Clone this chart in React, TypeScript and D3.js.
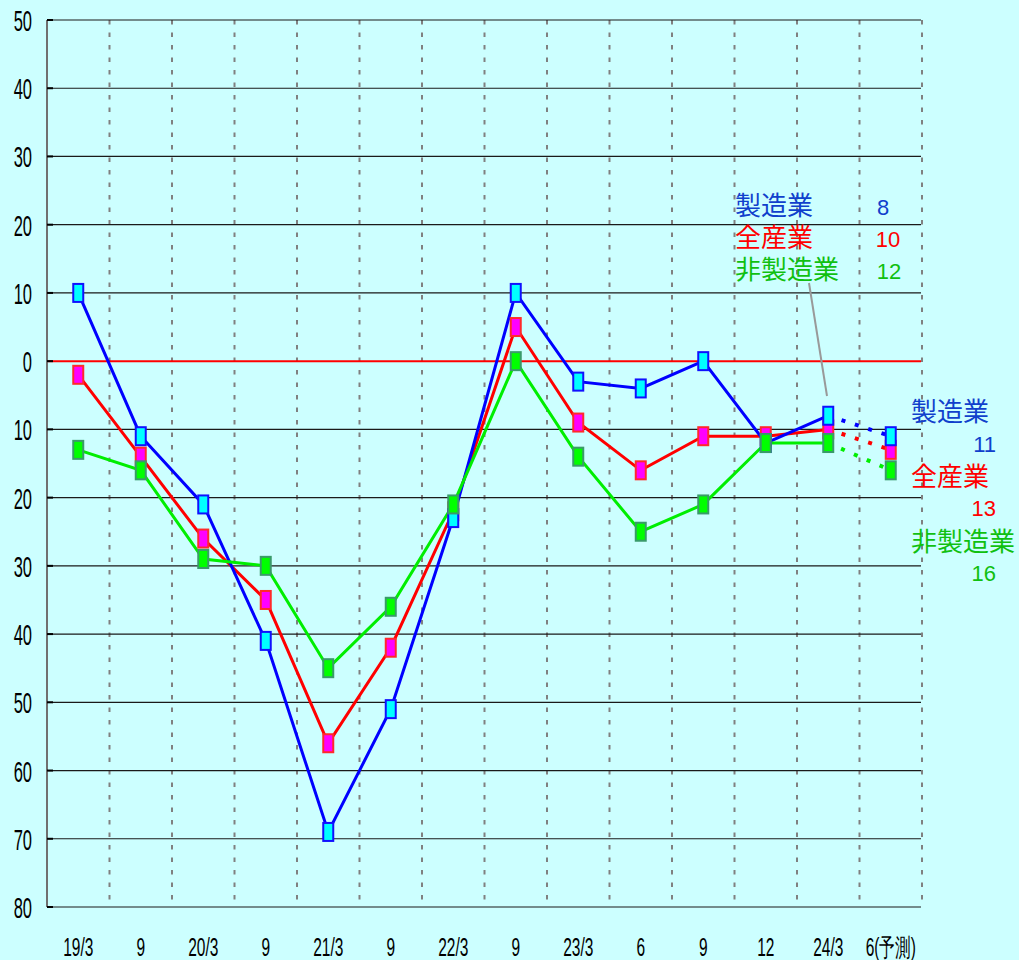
import React from 'react';
import * as d3 from 'd3';

const categories = ['19/3', '9', '20/3', '9', '21/3', '9', '22/3', '9', '23/3', '6', '9', '12', '24/3', '6(予測)'];
const manufacturing = [10, -11, -21, -41, -69, -51, -23, 10, -3, -4, 0, -12, -8, -11];
const allIndustries = [-2, -14, -26, -35, -56, -42, -22, 5, -9, -16, -11, -11, -10, -13];
const nonManufacturing = [-13, -16, -29, -30, -45, -36, -21, 0, -14, -25, -21, -12, -12, -16];
const yTicks = [50, 40, 30, 20, 10, 0, -10, -20, -30, -40, -50, -60, -70, -80];
const seriesNames = ['製造業', '全産業', '非製造業'];

const W = 1019;
const H = 960;
const L = 47;
const R = 922;
const T = 20;
const B = 907;

const JP = '"Noto Sans CJK JP", "Noto Sans CJK SC", sans-serif';
const LAT = '"Liberation Sans", Arial, sans-serif';

export default function App() {
  const idx = categories.map((_, i) => String(i));
  const x = d3.scaleBand<string>().domain(idx).range([L, R]).padding(0);
  const y = d3.scaleLinear().domain([-80, 50]).range([B, T]);
  const cx = (i: number) => (x(String(i)) as number) + x.bandwidth() / 2;

  const line = d3
    .line<number>()
    .x((_, i) => cx(i))
    .y((d) => y(d));

  const n = categories.length;
  const series = [
    { name: seriesNames[1], data: allIndustries, line: '#ff0000', fill: '#ff00ff', stroke: '#ff2a2a', text: '#ff0000' },
    { name: seriesNames[0], data: manufacturing, line: '#0000ff', fill: '#00ffff', stroke: '#1010ff', text: '#1040cc' },
    { name: seriesNames[2], data: nonManufacturing, line: '#00ee00', fill: '#00ff00', stroke: '#3a9a6a', text: '#10c010' },
  ];

  const solidPath = (d: number[]) => line(d.slice(0, n - 1)) as string;
  const forecastPath = (d: number[]) =>
    `M${cx(n - 2)},${y(d[n - 2])}L${cx(n - 1)},${y(d[n - 1])}`;

  const bySeries = (name: string) => series.find((s) => s.name === name)!;
  const mfg = bySeries(seriesNames[0]);
  const all = bySeries(seriesNames[1]);
  const non = bySeries(seriesNames[2]);

  return (
    <div style={{ position: 'absolute', left: 0, top: 0, width: W, height: H, background: '#ccffff' }}>
      <svg width={W} height={H} style={{ display: 'block' }}>
        <rect x={0} y={0} width={W} height={H} fill="#ccffff" />
        {/* vertical dashed grid */}
        {idx.map((k) => (
          <line
            key={'v' + k}
            x1={(x(k) as number) + x.bandwidth()}
            x2={(x(k) as number) + x.bandwidth()}
            y1={T}
            y2={B}
            stroke="#808080"
            strokeWidth={2}
            strokeDasharray="4.5,8"
          />
        ))}
        {/* horizontal grid */}
        {yTicks.map((t) => (
          <line
            key={'h' + t}
            x1={L}
            x2={R - 1}
            y1={y(t)}
            y2={y(t)}
            stroke={t === 0 ? '#ff0000' : '#1a1a1a'}
            strokeWidth={t === 0 ? 2 : 1.2}
          />
        ))}
        {/* left axis */}
        <line x1={L} x2={L} y1={T} y2={B} stroke="#707070" strokeWidth={2} />
        {yTicks.map((t) => (
          <line key={'t' + t} x1={L} x2={L + 6} y1={y(t)} y2={y(t)} stroke="#000" strokeWidth={2} />
        ))}
        {/* y labels */}
        {yTicks.map((t) => (
          <text
            key={'yl' + t}
            transform={`translate(32,${y(t) + 11}) scale(0.55,1)`}
            textAnchor="end"
            fontFamily={LAT}
            fontSize={30}
            fill="#000"
          >
            {Math.abs(t)}
          </text>
        ))}
        {/* x labels */}
        {categories.map((c, i) => (
          <text
            key={'xl' + i}
            transform={`translate(${cx(i)},956) scale(0.62,1)`}
            textAnchor="middle"
            fontFamily={LAT}
            fontSize={25}
            fill="#000"
          >
            {c}
          </text>
        ))}
        {/* lines */}
        {series.map((s) => (
          <g key={'l' + s.name}>
            <path d={solidPath(s.data)} fill="none" stroke={s.line} strokeWidth={3} />
            <path
              d={forecastPath(s.data)}
              fill="none"
              stroke={s.line}
              strokeWidth={4}
              strokeDasharray="4,10"
            />
          </g>
        ))}
        {/* markers */}
        {series.map((s) => (
          <g key={'m' + s.name}>
            {s.data.map((v, i) => (
              <rect
                key={i}
                x={cx(i) - 5}
                y={y(v) - 9}
                width={10}
                height={18}
                fill={s.fill}
                stroke={s.stroke}
                strokeWidth={2}
              />
            ))}
          </g>
        ))}
        {/* legend leader line */}
        <line x1={809} y1={283} x2={827} y2={396} stroke="#999999" strokeWidth={2} />
        {/* legend (latest values) */}
        <text x={735} y={215} fontFamily={JP} fontSize={26} fill={mfg.text}>{mfg.name}</text>
        <text x={883} y={215} textAnchor="middle" fontFamily={LAT} fontSize={22} fill={mfg.text}>
          {Math.abs(mfg.data[n - 2])}
        </text>
        <text x={735} y={247} fontFamily={JP} fontSize={26} fill={all.text}>{all.name}</text>
        <text x={888} y={247} textAnchor="middle" fontFamily={LAT} fontSize={22} fill={all.text}>
          {Math.abs(all.data[n - 2])}
        </text>
        <text x={735} y={279} fontFamily={JP} fontSize={26} fill={non.text}>{non.name}</text>
        <text x={889} y={279} textAnchor="middle" fontFamily={LAT} fontSize={22} fill={non.text}>
          {Math.abs(non.data[n - 2])}
        </text>
        {/* right-side forecast annotations */}
        <text x={911} y={421} fontFamily={JP} fontSize={26} fill={mfg.text}>{mfg.name}</text>
        <text x={996} y={452} textAnchor="end" fontFamily={LAT} fontSize={22} fill={mfg.text}>
          {Math.abs(mfg.data[n - 1])}
        </text>
        <text x={911} y={486} fontFamily={JP} fontSize={26} fill={all.text}>{all.name}</text>
        <text x={996} y={516} textAnchor="end" fontFamily={LAT} fontSize={22} fill={all.text}>
          {Math.abs(all.data[n - 1])}
        </text>
        <text x={911} y={551} fontFamily={JP} fontSize={26} fill={non.text}>{non.name}</text>
        <text x={996} y={581} textAnchor="end" fontFamily={LAT} fontSize={22} fill={non.text}>
          {Math.abs(non.data[n - 1])}
        </text>
      </svg>
    </div>
  );
}
